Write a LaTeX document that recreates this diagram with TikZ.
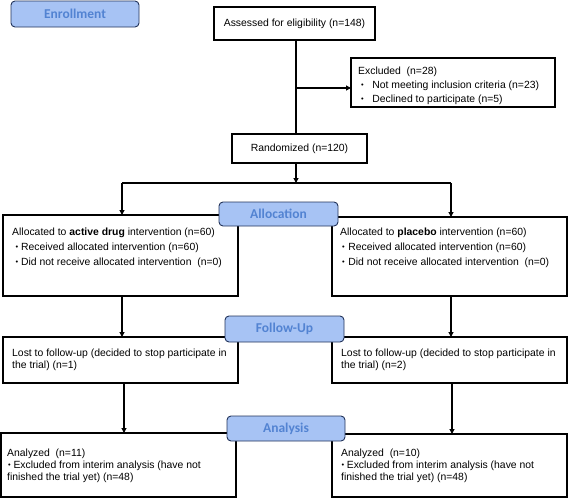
\documentclass[tikz,border=0pt]{standalone}
\usepackage{fontspec}
\setmainfont{Liberation Sans}
\newfontfamily\labelfont{Carlito}
\usetikzlibrary{arrows.meta}
\definecolor{lblfill}{HTML}{A7C3F4}
\definecolor{lbltext}{HTML}{5283D2}
\definecolor{lblborder}{HTML}{22335A}
\newcommand{\bitem}[2]{\hspace*{#1}\raisebox{0.4pt}{\fontsize{7.5}{7.5}\selectfont •}\hspace*{#2}}
\begin{document}
\begin{tikzpicture}[x=1pt,y=-1pt,
  box/.style={draw=black, line width=1.1pt, inner sep=0, outer sep=0},
  stage/.style={draw=lblborder, fill=lblfill, rounded corners=4pt, line width=0.9pt,
    font=\labelfont\bfseries\fontsize{13.5}{14}\selectfont, text=lbltext, inner sep=0},
  txt/.style={anchor=north west, inner sep=0, align=left},
  arr/.style={-{Triangle[length=5pt,width=5pt]}, line width=1.1pt},
  conn/.style={line width=1.1pt}]
\useasboundingbox (0,0) rectangle (568,498);
\tikzset{every node/.append style={font=\fontsize{10.4}{12}\selectfont}}

% boxes
\node[box, minimum width=161pt, minimum height=33pt] (assess) at (294.5,23.5) {Assessed for eligibility (n=148)};
\node[box, minimum width=204pt, minimum height=49pt] (excl) at (453,82.5) {};
\node[txt, font=\fontsize{10.4}{14}\selectfont] (exclt) at (358,66.4) {Excluded\ \ (n=28)\\\bitem{3pt}{8.5pt}Not meeting inclusion criteria (n=23)\\\bitem{3pt}{8.5pt}Declined to participate (n=5)};
\node[box, minimum width=135pt, minimum height=29pt] (rand) at (299.5,148.5) {Randomized (n=120)};

\node[box, minimum width=235pt, minimum height=81pt] (allocL) at (120.5,255.5) {};
\node[txt, font=\fontsize{10.4}{15}\selectfont] (allocLt) at (12,227.4) {Allocated to \textbf{active drug} intervention (n=60)\\\bitem{3.5pt}{2.7pt}Received allocated intervention (n=60)\\\bitem{3.5pt}{2.7pt}Did not receive allocated intervention\ \ (n=0)};
\node[box, minimum width=235pt, minimum height=79pt] (allocR) at (449.5,256.5) {};
\node[txt, font=\fontsize{10.4}{15}\selectfont] (allocRt) at (340,227.4) {Allocated to \textbf{placebo} intervention (n=60)\\\bitem{2pt}{3.5pt}Received allocated intervention (n=60)\\\bitem{2pt}{3.5pt}Did not receive allocated intervention\ \ (n=0)};

\node[box, minimum width=235pt, minimum height=46pt] (fuL) at (120.5,360) {};
\node[txt, font=\fontsize{10.4}{12}\selectfont] (fuLt) at (12,348.4) {Lost to follow-up (decided to stop participate in\\the trial) (n=1)};
\node[box, minimum width=235pt, minimum height=46pt] (fuR) at (449.5,360) {};
\node[txt, font=\fontsize{10.4}{12}\selectfont] (fuRt) at (341,348.4) {Lost to follow-up (decided to stop participate in\\the trial) (n=2)};

\node[box, minimum width=235pt, minimum height=64pt] (anL) at (118.5,465) {};
\node[txt, font=\fontsize{10.4}{12}\selectfont] (anLt) at (7,448.4) {Analyzed\ \ (n=11)\\\bitem{1pt}{2.7pt}Excluded from interim analysis (have not\\finished the trial yet) (n=48)};
\node[box, minimum width=235pt, minimum height=63pt] (anR) at (449.5,465.5) {};
\node[txt, font=\fontsize{10.4}{12}\selectfont] (anRt) at (341,448.4) {Analyzed\ \ (n=10)\\\bitem{0.5pt}{2.5pt}Excluded from interim analysis (have not\\finished the trial yet) (n=48)};

% connectors
\coordinate (c1) at (296,88);
\coordinate (hM) at (296,183);
\coordinate (hL) at (122,183);
\coordinate (hR) at (451,183);
\coordinate (vL2) at (124,400);
\coordinate (vR2) at (452,400);
\draw[conn] (assess.south -| c1) -- (rand.north -| c1);
\draw[arr] (c1) -- (excl.west |- c1);
\draw[arr] (rand.south -| hM) -- (hM);
\draw[conn] (hL) -- (hR);
\draw[arr] (hL) -- (allocL.north -| hL);
\draw[arr] (hR) -- (allocR.north -| hR);
\draw[arr] (allocL.south -| hL) -- (fuL.north -| hL);
\draw[arr] (allocR.south -| hR) -- (fuR.north -| hR);
\draw[arr] (fuL.south -| vL2) -- (anL.north -| vL2);
\draw[arr] (fuR.south -| vR2) -- (anR.north -| vR2);

% stage labels
\node[stage, minimum width=128pt, minimum height=26pt] (enroll) at (75,14) {Enrollment};
\node[stage, minimum width=119pt, minimum height=24pt] (allocS) at (278.5,214) {Allocation};
\node[stage, minimum width=119pt, minimum height=26pt] (fuS) at (284.5,329) {Follow-Up};
\node[stage, minimum width=118pt, minimum height=25pt] (anS) at (286,428.5) {Analysis};
\end{tikzpicture}
\end{document}
